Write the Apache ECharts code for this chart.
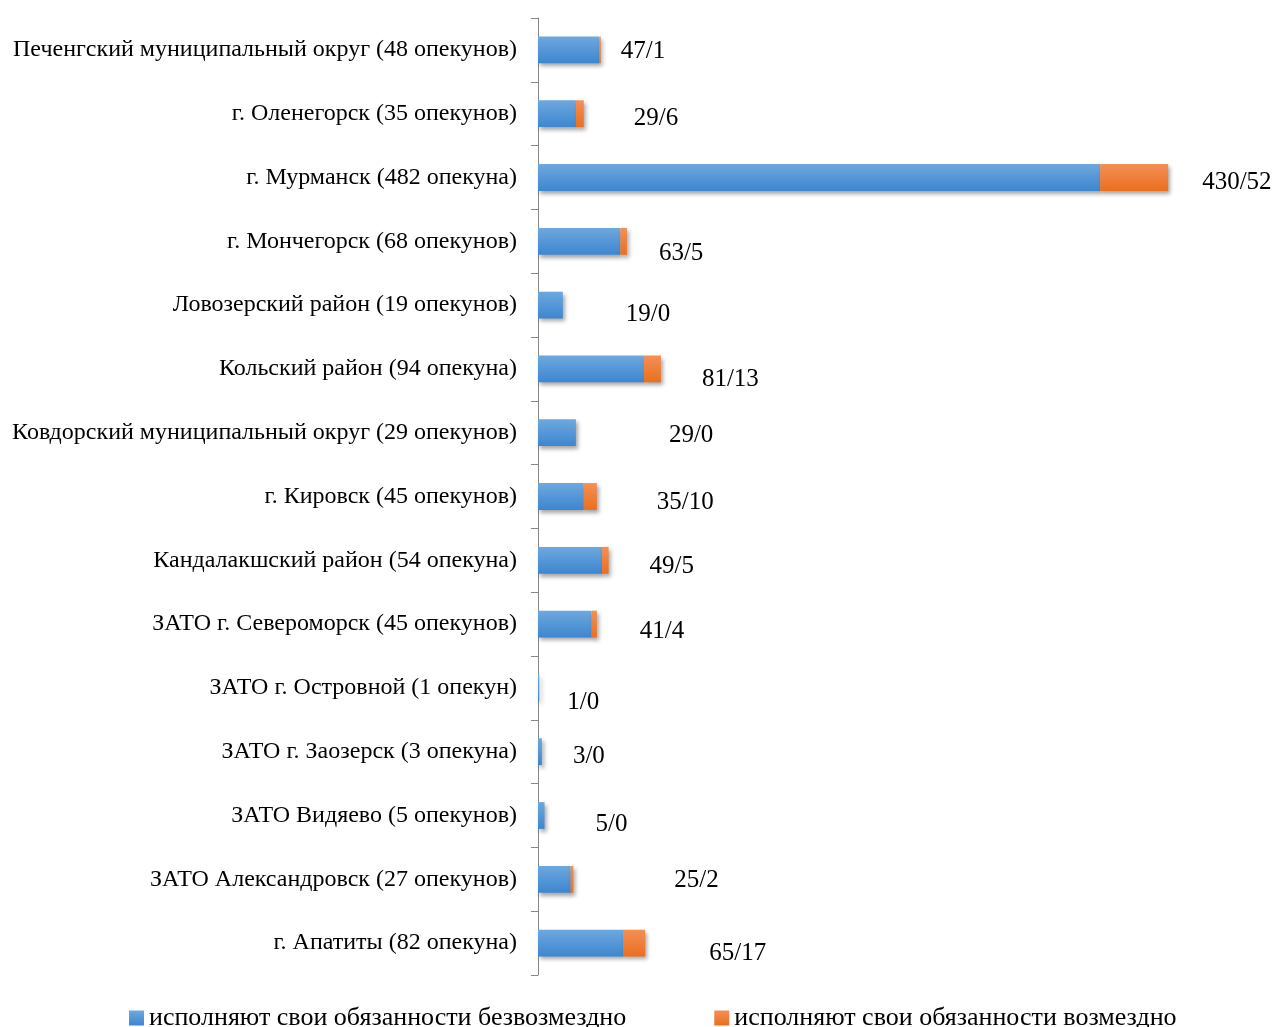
<!DOCTYPE html>
<html><head><meta charset="utf-8">
<script src="https://cdn.jsdelivr.net/npm/echarts@6/dist/echarts.min.js"></script>
<style>html,body{margin:0;padding:0;background:#fff}#c{width:1278px;height:1027px}</style>
</head><body><div id="c"></div>
<script>
const categories = [
  'Печенгский муниципальный округ (48 опекунов)',
  'г. Оленегорск (35 опекунов)',
  'г. Мурманск (482 опекуна)',
  'г. Мончегорск (68 опекунов)',
  'Ловозерский район (19 опекунов)',
  'Кольский район (94 опекуна)',
  'Ковдорский муниципальный округ (29 опекунов)',
  'г. Кировск (45 опекунов)',
  'Кандалакшский район (54 опекуна)',
  'ЗАТО г. Североморск (45 опекунов)',
  'ЗАТО г. Островной (1 опекун)',
  'ЗАТО г. Заозерск (3 опекуна)',
  'ЗАТО Видяево (5 опекунов)',
  'ЗАТО Александровск (27 опекунов)',
  'г. Апатиты (82 опекуна)'
];
const freeOfCharge = [47, 29, 430, 63, 19, 81, 29, 35, 49, 41, 1, 3, 5, 25, 65];
const paid = [1, 6, 52, 5, 0, 13, 0, 10, 5, 4, 0, 0, 0, 2, 17];
const seriesNames = ['исполняют свои обязанности безвозмездно', 'исполняют свои обязанности возмездно'];
// label nudges (as manually placed in the original)
const labelOffsets = [[20,2],[50,5],[34,5],[32,12],[63,9],[41,11],[93,3],[60,6],[41,6],[43,7],[28,15],[31,5],[51,9],[101,1],[64,10]];

const font = '"Liberation Serif", "Times New Roman", serif';
const blueGrad = new echarts.graphic.LinearGradient(0,0,0,1,[{offset:0,color:'#6ea8de'},{offset:1,color:'#3d86d0'}]);
const orangeGrad = new echarts.graphic.LinearGradient(0,0,0,1,[{offset:0,color:'#f48f55'},{offset:1,color:'#ea6f1f'}]);
const shadow = {shadowBlur:4, shadowOffsetX:2, shadowOffsetY:3, shadowColor:'rgba(0,0,0,0.35)'};

const chart = echarts.init(document.getElementById('c'));
chart.setOption({
  animation:false,
  backgroundColor:'#fff',
  grid:{left:538, top:18, bottom:52, right:34, containLabel:false},
  legend:{
    top:1000, left:124, itemWidth:15, itemHeight:15, itemGap:88, icon:'rect',
    textStyle:{fontFamily:font, fontSize:26, color:'#000'},
    data:[{name:seriesNames[0], itemStyle:{color:blueGrad}},{name:seriesNames[1], itemStyle:{color:orangeGrad}}]
  },
  xAxis:{type:'value', min:0, max:540, show:false},
  yAxis:{
    type:'category', data:categories, inverse:true,
    axisLine:{show:true, lineStyle:{color:'#868686', width:1}},
    axisTick:{show:true, length:7, lineStyle:{color:'#868686'}},
    axisLabel:{fontFamily:font, fontSize:24, color:'#000', margin:21, padding:[7,0,0,0]}
  },
  series:[
    {name:seriesNames[0], type:'bar', stack:'t', barWidth:'42%', data:freeOfCharge,
     itemStyle:Object.assign({color:blueGrad}, shadow)},
    {name:seriesNames[1], type:'bar', stack:'t', barWidth:'42%',
     data: paid.map((v,i)=>({value:v, label:{offset:labelOffsets[i]}})),
     itemStyle:Object.assign({color:orangeGrad}, shadow),
     label:{show:true, position:'right', distance:0, fontFamily:font, fontSize:25, color:'#000',
       formatter:p=>freeOfCharge[p.dataIndex]+'/'+paid[p.dataIndex]}}
  ]
});
</script></body></html>
